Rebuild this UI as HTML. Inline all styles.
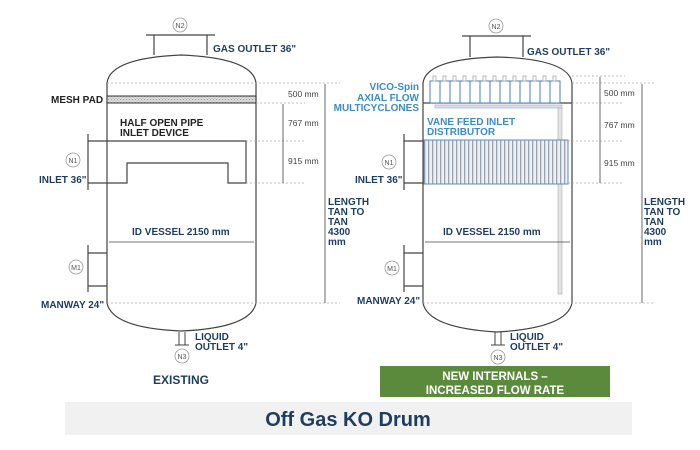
<!DOCTYPE html>
<html><head><style>
html,body{margin:0;padding:0;background:#fff;}
svg{display:block;}
text{font-family:"Liberation Sans",sans-serif;}
.lb{font-weight:bold;font-size:10px;fill:#1f3d5c;}
.bl{font-weight:bold;font-size:10px;fill:#3d8cc4;}
.dm{font-size:8.5px;fill:#444;}
.nz{font-size:7px;fill:#555;}
</style></head><body>
<svg width="700" height="450" viewBox="0 0 700 450" xmlns="http://www.w3.org/2000/svg">
<defs>
<pattern id="mesh" width="3" height="3" patternUnits="userSpaceOnUse"><rect width="3" height="3" fill="#ddd"/><rect width="1" height="1" fill="#999"/><rect x="1.5" y="1.5" width="1" height="1" fill="#aaa"/></pattern>
<pattern id="vane" width="4" height="10" patternUnits="userSpaceOnUse"><rect width="4" height="10" fill="#eef0f4"/><rect width="1.3" height="10" fill="#9aa3b0"/></pattern>
</defs>

<g stroke="#444" fill="none" stroke-width="1.2">
<path d="M107,303 L107,83 Q110,58 181,55 Q253,58 256,83 L256,303"/>
<path d="M107,303 Q112,328 181,331 Q251,328 256,303"/>
<path d="M154,55 L154,35 M207,55 L207,35 M146,35 L215,35"/>
<path d="M88,134 L88,190 M88,141 L246,141 L246,183 L228,183 L228,163 L127,163 L127,183 L88,183"/>
<path d="M88,245 L88,292 M88,253 L107,253 M88,286 L107,286"/>
<path d="M179,332 L179,345 M185,332 L185,345 M175,345 L189,345" stroke-width="1"/>
</g>
<rect x="107" y="96" width="149" height="7" fill="url(#mesh)" stroke="#333" stroke-width="1"/>
<g stroke="#aaa" stroke-dasharray="2,2" stroke-width="0.8">
<line x1="107" y1="83" x2="340" y2="83"/><line x1="256" y1="103" x2="305" y2="103"/>
<line x1="246" y1="141" x2="305" y2="141"/><line x1="246" y1="183" x2="305" y2="183"/>
<line x1="107" y1="303" x2="340" y2="303"/>
</g>
<g stroke="#444" stroke-width="0.8">
<line x1="283" y1="104" x2="283" y2="183"/><line x1="325" y1="84" x2="325" y2="303"/>
<line x1="109" y1="242" x2="254" y2="242"/>
</g>
<g fill="#fff" stroke="#999" stroke-width="0.8">
<circle cx="180" cy="25" r="7"/><circle cx="73" cy="160" r="7"/><circle cx="76" cy="267" r="7"/><circle cx="182" cy="356" r="7"/>
</g>
<text class="nz" x="180" y="28" text-anchor="middle">N2</text>
<text class="nz" x="73" y="163" text-anchor="middle">N1</text>
<text class="nz" x="76" y="270" text-anchor="middle">M1</text>
<text class="nz" x="182" y="359" text-anchor="middle">N3</text>
<text class="lb" x="213" y="52">GAS OUTLET 36"</text>
<text class="lb" x="51" y="103" style="fill:#222">MESH PAD</text>
<text class="lb" x="120" y="126" style="fill:#222">HALF OPEN PIPE</text>
<text class="lb" x="120" y="136" style="fill:#222">INLET DEVICE</text>
<text class="lb" x="39" y="183">INLET 36"</text>
<text class="lb" x="132" y="235">ID VESSEL 2150 mm</text>
<text class="lb" x="41" y="308">MANWAY 24"</text>
<text class="lb" x="195" y="340">LIQUID</text>
<text class="lb" x="195" y="350">OUTLET 4"</text>
<text class="dm" x="288" y="97">500 mm</text>
<text class="dm" x="288" y="126">767 mm</text>
<text class="dm" x="288" y="164">915 mm</text>
<text class="lb" x="328" y="205">LENGTH</text>
<text class="lb" x="328" y="215">TAN TO</text>
<text class="lb" x="328" y="225">TAN</text>
<text class="lb" x="328" y="235">4300</text>
<text class="lb" x="328" y="245">mm</text>
<text class="lb" x="181" y="384" text-anchor="middle" style="font-size:12px">EXISTING</text>

<g stroke="#444" fill="none" stroke-width="1.2">
<path d="M423,303 L423,83 Q426,59 497,57 Q569,59 572,83 L572,303"/>
<path d="M423,303 Q428,328 497,332 Q567,328 572,303"/>
<path d="M470,57 L470,36 M523,57 L523,36 M462,36 L531,36"/>
<path d="M404,134 L404,190 M404,141 L424,141 M404,183 L424,183"/>
<path d="M404,245 L404,292 M404,253 L423,253 M404,286 L423,286"/>
<path d="M495,332 L495,345 M501,332 L501,345 M491,345 L505,345" stroke-width="1"/>
<line x1="423" y1="103" x2="572" y2="103"/>
</g>
<g stroke="#4a7fb5" fill="#fff" stroke-width="1">
<rect x="430" y="81" width="10" height="22"/><rect x="440" y="81" width="10" height="22"/><rect x="450" y="81" width="10" height="22"/><rect x="460" y="81" width="10" height="22"/><rect x="470" y="81" width="10" height="22"/><rect x="480" y="81" width="10" height="22"/><rect x="490" y="81" width="10" height="22"/><rect x="500" y="81" width="10" height="22"/><rect x="510" y="81" width="10" height="22"/><rect x="520" y="81" width="10" height="22"/><rect x="530" y="81" width="10" height="22"/><rect x="540" y="81" width="10" height="22"/><rect x="550" y="81" width="10" height="22"/>
</g>
<g stroke="#aaa" fill="#fff" stroke-width="0.8">
<rect x="433" y="76" width="3" height="5"/><rect x="443" y="76" width="3" height="5"/><rect x="453" y="76" width="3" height="5"/><rect x="463" y="76" width="3" height="5"/><rect x="473" y="76" width="3" height="5"/><rect x="483" y="76" width="3" height="5"/><rect x="493" y="76" width="3" height="5"/><rect x="503" y="76" width="3" height="5"/><rect x="513" y="76" width="3" height="5"/><rect x="523" y="76" width="3" height="5"/><rect x="533" y="76" width="3" height="5"/><rect x="543" y="76" width="3" height="5"/><rect x="553" y="76" width="3" height="5"/>
</g>
<rect x="435" y="105" width="127" height="3" fill="#dde" stroke="#aaa" stroke-width="0.6"/>
<rect x="558" y="108" width="4" height="186" fill="#e4e4e4" stroke="#aaa" stroke-width="0.6"/>
<rect x="424" y="140" width="144" height="44" fill="url(#vane)" stroke="#5a8cc0" stroke-width="1"/>
<g stroke="#aaa" stroke-dasharray="2,2" stroke-width="0.8">
<line x1="572" y1="76" x2="625" y2="76"/><line x1="572" y1="83" x2="655" y2="83"/><line x1="572" y1="103" x2="622" y2="103"/>
<line x1="568" y1="141" x2="622" y2="141"/><line x1="568" y1="183" x2="622" y2="183"/>
<line x1="423" y1="303" x2="655" y2="303"/>
</g>
<g stroke="#444" stroke-width="0.8">
<line x1="600" y1="77" x2="600" y2="183"/><line x1="642" y1="84" x2="642" y2="303"/>
<line x1="425" y1="242" x2="570" y2="242"/>
</g>
<g fill="#fff" stroke="#999" stroke-width="0.8">
<circle cx="496" cy="26" r="7"/><circle cx="389" cy="162" r="7"/><circle cx="392" cy="268" r="7"/><circle cx="498" cy="357" r="7"/>
</g>
<text class="nz" x="496" y="29" text-anchor="middle">N2</text>
<text class="nz" x="389" y="165" text-anchor="middle">N1</text>
<text class="nz" x="392" y="271" text-anchor="middle">M1</text>
<text class="nz" x="498" y="360" text-anchor="middle">N3</text>
<text class="lb" x="527" y="55">GAS OUTLET 36"</text>
<text class="bl" x="419" y="90" text-anchor="end">VICO-Spin</text>
<text class="bl" x="419" y="101" text-anchor="end">AXIAL FLOW</text>
<text class="bl" x="419" y="111" text-anchor="end">MULTICYCLONES</text>
<text class="bl" x="427" y="125">VANE FEED INLET</text>
<text class="bl" x="427" y="135">DISTRIBUTOR</text>
<text class="lb" x="355" y="183">INLET 36"</text>
<text class="lb" x="443" y="235">ID VESSEL 2150 mm</text>
<text class="lb" x="357" y="304">MANWAY 24"</text>
<text class="lb" x="510" y="340">LIQUID</text>
<text class="lb" x="510" y="350">OUTLET 4"</text>
<text class="dm" x="604" y="96">500 mm</text>
<text class="dm" x="604" y="128">767 mm</text>
<text class="dm" x="604" y="166">915 mm</text>
<text class="lb" x="644" y="205">LENGTH</text>
<text class="lb" x="644" y="215">TAN TO</text>
<text class="lb" x="644" y="225">TAN</text>
<text class="lb" x="644" y="235">4300</text>
<text class="lb" x="644" y="245">mm</text>

<rect x="380" y="366" width="230" height="31" fill="#5b8a3c"/>
<text x="495" y="380" text-anchor="middle" style="font-weight:bold;font-size:11.5px;fill:#fff">NEW INTERNALS –</text>
<text x="495" y="394" text-anchor="middle" style="font-weight:bold;font-size:11.5px;fill:#fff">INCREASED FLOW RATE</text>

<rect x="65" y="402" width="567" height="33" fill="#f1f1f1"/>
<text x="348" y="426" text-anchor="middle" style="font-weight:bold;font-size:20px;fill:#1f3d5c">Off Gas KO Drum</text>
</svg>
</body></html>
